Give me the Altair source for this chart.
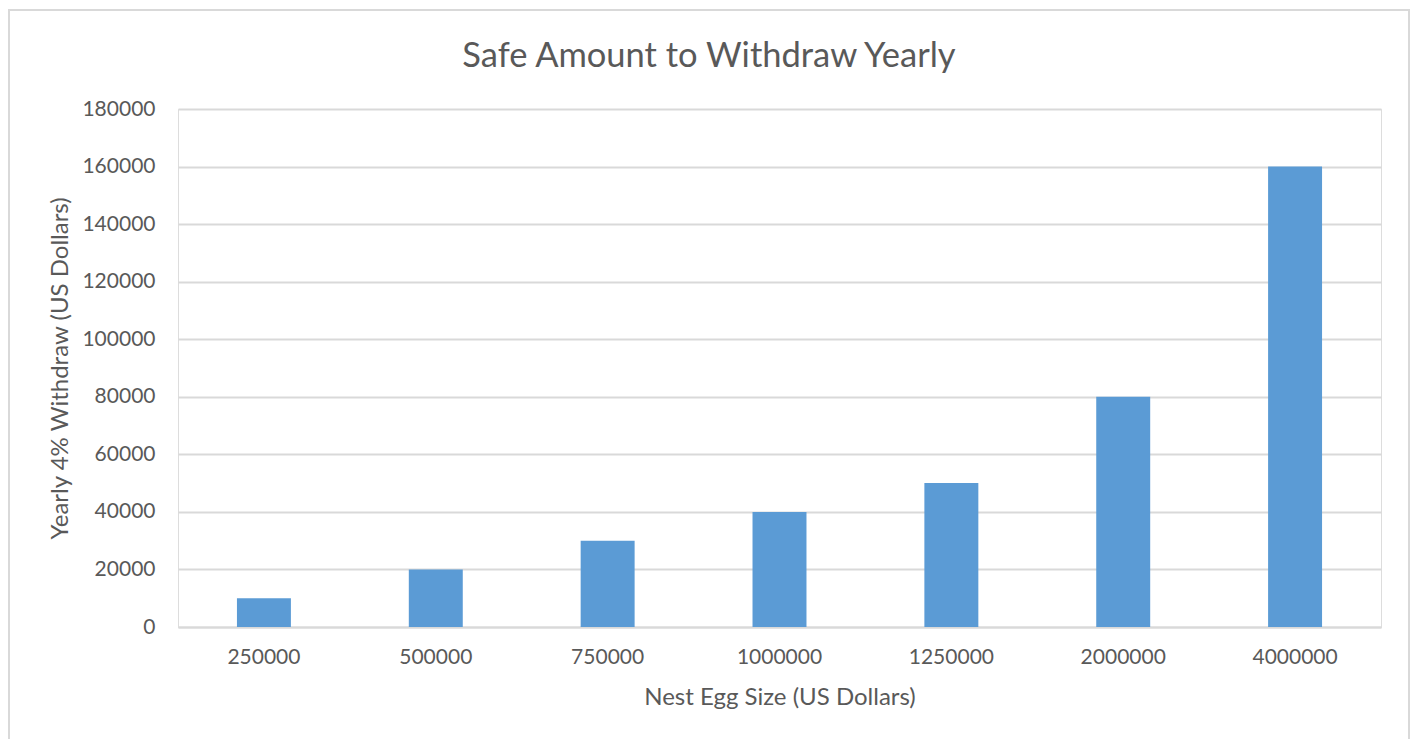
import altair as alt
import pandas as pd

nest_egg = ["250000", "500000", "750000", "1000000", "1250000", "2000000", "4000000"]
withdraw = [10000, 20000, 30000, 40000, 50000, 80000, 160000]
y_ticks = [0, 20000, 40000, 60000, 80000, 100000, 120000, 140000, 160000, 180000]
title_text = ["Safe Amount to Withdraw Yearly"]

df = pd.DataFrame({"egg": nest_egg, "amount": withdraw})

FONT = "Lato"
TXT = "#595959"
GRID = "#d9d9d9"

border = alt.Chart(pd.DataFrame({"a": [0]})).mark_rect(
    filled=False, stroke=GRID, strokeWidth=2
).encode(
    x=alt.value(-169), x2=alt.value(1231), y=alt.value(-99), y2=alt.value(720)
)

title = alt.Chart(pd.DataFrame({"t": title_text})).mark_text(
    font=FONT, fontSize=34.5, color=TXT, align="center", baseline="alphabetic"
).encode(text="t:N", x=alt.value(531), y=alt.value(-42))

bars = alt.Chart(df).mark_bar(color="#5B9BD5").encode(
    x=alt.X("egg:N", sort=nest_egg,
            scale=alt.Scale(paddingInner=0.686, paddingOuter=0.343),
            axis=alt.Axis(title="Nest Egg Size (US Dollars)", labelAngle=0,
                          domainColor=GRID, domainWidth=2, ticks=False,
                          labelPadding=19, titlePadding=18,
                          labelFontSize=21, titleFontSize=24,
                          labelColor=TXT, titleColor=TXT,
                          labelFont=FONT, titleFont=FONT, titleFontWeight="normal")),
    y=alt.Y("amount:Q", scale=alt.Scale(domain=[0, 180000], nice=False),
            axis=alt.Axis(title="Yearly 4% Withdraw (US Dollars)", values=y_ticks,
                          format="d", domain=False, ticks=False,
                          gridColor=GRID, gridWidth=2,
                          labelPadding=23, titlePadding=9,
                          labelFontSize=21, titleFontSize=24,
                          labelColor=TXT, titleColor=TXT,
                          labelFont=FONT, titleFont=FONT, titleFontWeight="normal")),
)

chart = alt.layer(border, bars, title).properties(
    width=1203, height=518,
    autosize=alt.AutoSizeParams(type="none"),
    padding={"left": 178, "top": 109, "right": 32, "bottom": 112},
).configure_view(stroke=None).configure(background="white")

chart.save("out.html", embed_options={"renderer": "svg", "actions": False})
